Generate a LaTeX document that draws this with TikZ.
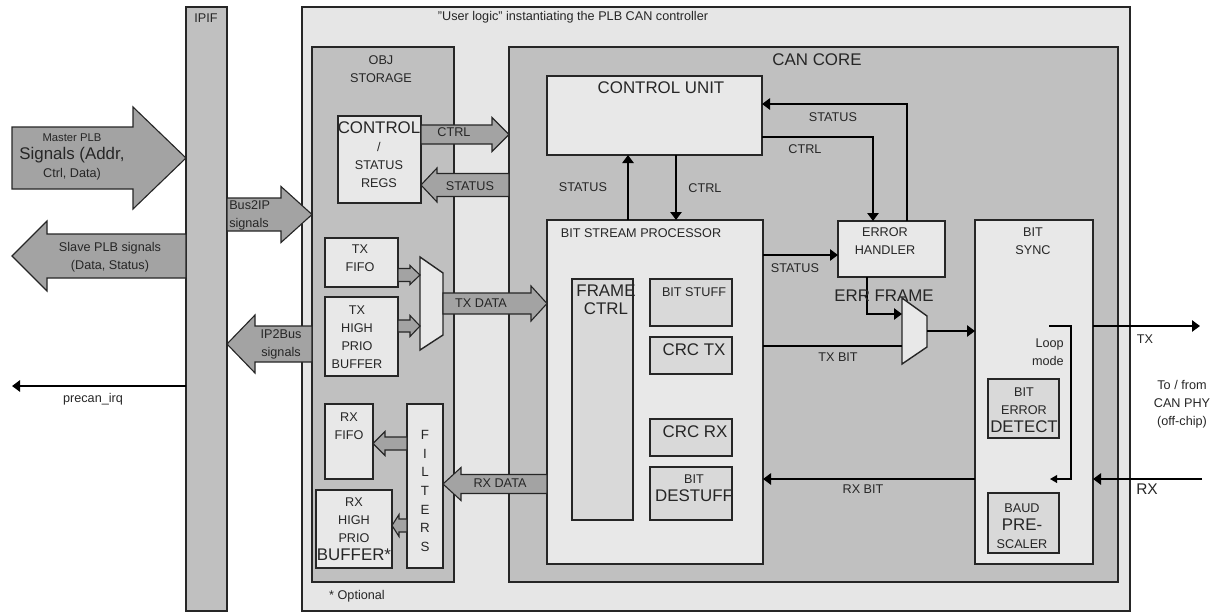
\documentclass[tikz,border=0pt]{standalone}
\usepackage{fontspec}
\setmainfont{Liberation Sans}
\usepackage{xcolor}
\definecolor{outercolor}{HTML}{E6E6E6}
\definecolor{groupcolor}{HTML}{C0C0C0}
\definecolor{blockcolor}{HTML}{E8E8E8}
\definecolor{innercolor}{HTML}{D9D9D9}
\definecolor{buscolor}{HTML}{A3A3A3}
\definecolor{edgecolor}{HTML}{262626}
\usepackage{tikz}
\usetikzlibrary{arrows.meta}
\newcommand{\bigf}{\fontsize{12}{12.5}\selectfont}
% wide bus arrow: start x, head x, tip x, y, half body, half head
\newcommand{\busarrow}[6]{%
  \draw[bus] (#1,#4-#5) -- (#2,#4-#5) -- (#2,#4-#6) -- (#3,#4)
    -- (#2,#4+#6) -- (#2,#4+#5) -- (#1,#4+#5) -- cycle;}

\begin{document}
\begin{tikzpicture}[
  x=0.025cm, y=-0.025cm,
  line join=miter,
  font=\fontsize{9}{12.8}\selectfont,
  blk/.style={draw=edgecolor, line width=1pt, anchor=north west, inner sep=0pt, outer sep=0pt},
  wh/.style 2 args={minimum width=#1*0.025cm, minimum height=#2*0.025cm},
  lbl/.style={inner sep=0pt, align=center, text=black!85},
  sig/.style={line width=2pt, draw=black, -{Triangle[length=2mm, width=2.8mm]}},
  wire/.style={line width=2pt, draw=black},
  loopline/.style={line width=0.9pt, draw=black, -{Triangle[length=1.8mm, width=2mm]}},
  bus/.style={draw=edgecolor, line width=0.8pt, fill=buscolor},
  mux/.style={draw=edgecolor, line width=1pt, fill=blockcolor},
]
  \useasboundingbox (0,0) rectangle (1215,613);

  % helper rows and columns
  \coordinate (cstat) at (628,0);
  \coordinate (cctrl) at (676,0);
  \coordinate (ceh) at (873,0);
  \coordinate (cehst) at (907,0);
  \coordinate (cerr) at (867,0);
  \coordinate (rst) at (0,104);
  \coordinate (rctrl) at (0,137);
  \coordinate (rbsp) at (0,255);
  \coordinate (rtx) at (0,326);
  \coordinate (rrx) at (0,479);
  \coordinate (rirq) at (0,386);

  % frames
  \node[blk, fill=groupcolor, wh={41}{604}] (ipif) at (186,7) {};
  \node[blk, fill=outercolor, wh={828}{604}] (user) at (302,7) {};
  \node[blk, fill=groupcolor, wh={142}{535}] (obj) at (312,47) {};
  \node[blk, fill=groupcolor, wh={609}{535}] (core) at (509,47) {};

  % obj storage
  \node[blk, fill=blockcolor, wh={83}{87}] (csr) at (338,116) {};
  \node[blk, fill=blockcolor, wh={73}{49}] (txfifo) at (325,238) {};
  \node[blk, fill=blockcolor, wh={73}{79}] (txhp) at (325,297) {};
  \node[blk, fill=blockcolor, wh={48}{75}] (rxfifo) at (325,404) {};
  \node[blk, fill=blockcolor, wh={36}{164}] (filt) at (407,404) {};
  \node[blk, fill=blockcolor, wh={76}{78}] (rxhp) at (316,490) {};

  % can core
  \node[blk, fill=blockcolor, wh={215}{79}] (cu) at (547,76) {};
  \node[blk, fill=blockcolor, wh={216}{344}] (bsp) at (547,220) {};
  \node[blk, fill=innercolor, wh={61}{241}] (frame) at (572,279) {};
  \node[blk, fill=innercolor, wh={82}{47}] (stuff) at (650,279) {};
  \node[blk, fill=innercolor, wh={82}{37}] (crctx) at (650,337) {};
  \node[blk, fill=innercolor, wh={82}{37}] (crcrx) at (650,419) {};
  \node[blk, fill=innercolor, wh={82}{53}] (destuff) at (650,467) {};
  \node[blk, fill=blockcolor, wh={107}{56}] (eh) at (838,221) {};
  \node[blk, fill=blockcolor, wh={118}{344}] (sync) at (975,220) {};
  \node[blk, fill=innercolor, wh={71}{59}] (bed) at (988,379) {};
  \node[blk, fill=innercolor, wh={71}{60}] (baud) at (988,493) {};

  % multiplexers
  \coordinate (txmuxa) at (420,275);
  \coordinate (txmuxb) at (420,326);
  \coordinate (txmuxo) at (443,303);
  \draw[mux] (420,257) -- (443,273) -- (443,335) -- (420,350) -- cycle;
  \coordinate (errmuxa) at (902,314);
  \coordinate (errmuxb) at (902,346);
  \coordinate (errmuxo) at (927,331);
  \draw[mux] (902,298) -- (927,316) -- (927,347) -- (902,364) -- cycle;

  % wide buses
  \busarrow{12}{133}{186}{158}{31}{51}
  \busarrow{186}{47}{12}{256}{22}{35}
  \busarrow{227}{281}{312}{214.5}{16.5}{28}
  \busarrow{312}{255}{227}{344}{18}{29}
  \busarrow{421}{492}{509}{134.5}{9.5}{17}
  \busarrow{509}{437}{421}{185}{11.5}{17}
  \busarrow{443}{531}{547}{303.5}{10.5}{17.5}
  \busarrow{547}{461}{443}{484}{9.5}{16.5}
  \busarrow{398}{410}{420}{275}{6.5}{9.5}
  \busarrow{398}{410}{420}{326}{6}{10.5}
  \busarrow{407}{385}{373}{443.5}{6.5}{12}
  \busarrow{407}{399}{392}{525.5}{6.5}{11}

  % control signals
  \draw[sig] (bsp.north -| cstat) -- (cu.south -| cstat);
  \draw[sig] (cu.south -| cctrl) -- (bsp.north -| cctrl);
  \draw[sig] (cu.east |- rctrl) -| (eh.north -| ceh);
  \draw[sig] (eh.north -| cehst) |- (cu.east |- rst);
  \draw[sig] (bsp.east |- rbsp) -- (eh.west |- rbsp);
  \draw[sig] (eh.south -| cerr) |- (errmuxa);
  \draw[wire] (bsp.east |- errmuxb) -- (errmuxb);
  \draw[sig] (errmuxo) -- (sync.west |- errmuxo);
  \draw[sig] (sync.west |- rrx) -- (bsp.east |- rrx);

  % phy side
  \coordinate (txend) at (1200,326);
  \coordinate (rxstart) at (1202,479);
  \draw[sig] (sync.east |- rtx) -- (txend);
  \draw[sig] (rxstart) -- (sync.east |- rrx);
  \coordinate (loopa) at (1049,326);
  \coordinate (loopb) at (1071,326);
  \coordinate (loopc) at (1071,479);
  \coordinate (loopd) at (1050,479);
  \draw[loopline] (loopa) -- (loopb) -- (loopc) -- (loopd);

  % interrupt
  \coordinate (irqend) at (12,386);
  \draw[sig] (ipif.west |- rirq) -- (irqend);

  % texts
  \node[lbl] (tipif) at (206,18) {IPIF};
  \node[lbl] (tuser) at (573,17) {"User logic" instantiating the PLB CAN controller};
  \node[lbl] (tobj) at (381,69) {OBJ\\STORAGE};
  \node[lbl, font=\bigf] (tcore) at (817,60) {CAN CORE};
  \node[lbl] (topt) at (357,596) {* Optional};
  \node[lbl] (tcsr) at (379,155) {{\bigf CONTROL}\\/\\STATUS\\REGS};
  \node[lbl] (ttxfifo) at (360,258) {TX\\FIFO};
  \node[lbl] (ttxhp) at (357,337) {TX\\HIGH\\PRIO\\BUFFER};
  \node[lbl] (trxfifo) at (349,426) {RX\\FIFO};
  \node[lbl] (trxhp) at (354,529) {RX\\HIGH\\PRIO\\{\bigf BUFFER*}};
  \node[lbl, font=\fontsize{9.5}{13.2}\selectfont] (tfilt) at (425,491) {F\\I\\L\\T\\E\\R\\S};
  \node[lbl] (tbusctrl) at (454,132) {CTRL};
  \node[lbl] (tbusstat) at (470,186) {STATUS};
  \node[lbl] (ttxdata) at (481,303) {TX DATA};
  \node[lbl] (trxdata) at (500,483) {RX DATA};

  \node[lbl, font=\bigf] (tcu) at (661,88) {CONTROL UNIT};
  \node[lbl] (tbsp) at (641,233) {BIT STREAM PROCESSOR};
  \node[lbl, font=\bigf] (tframe) at (606,300) {FRAME\\CTRL};
  \node[lbl] (tstuff) at (694,292) {BIT STUFF};
  \node[lbl, font=\bigf] (tcrctx) at (694,350) {CRC TX};
  \node[lbl, font=\bigf] (tcrcrx) at (695,432) {CRC RX};
  \node[lbl] (tdestuff) at (694,488) {BIT\\{\bigf DESTUFF}};
  \node[lbl] (teh) at (885,241.5) {ERROR\\HANDLER};
  \node[lbl] (tsync) at (1033,241.5) {BIT\\SYNC};
  \node[lbl] (tbed) at (1024,410) {BIT\\ERROR\\{\bigf DETECT}};
  \node[lbl] (tbaud) at (1022,526) {BAUD\\{\bigf PRE-}\\SCALER};
  \node[lbl, align=right, anchor=east] (tloop) at (1064,352) {Loop\\mode};
  \node[lbl, font=\bigf] (terr) at (884,296) {ERR FRAME};

  \node[lbl] (tstup) at (583,187) {STATUS};
  \node[lbl] (tctdown) at (705,188) {CTRL};
  \node[lbl] (tcteh) at (805,149) {CTRL};
  \node[lbl] (tsteh) at (833,117) {STATUS};
  \node[lbl] (tstbsp) at (795,268) {STATUS};
  \node[lbl] (ttxbit) at (838,357) {TX BIT};
  \node[lbl] (trxbit) at (863,489) {RX BIT};
  \node[lbl] (ttx) at (1145,339) {TX};
  \node[lbl, font=\fontsize{11}{12}\selectfont] (trx) at (1147,489) {RX};
  \node[lbl] (tphy) at (1182,404) {To / from\\CAN PHY\\(off-chip)};

  \node[lbl] (tmaster) at (72,157) {\fontsize{8}{9}\selectfont Master PLB\\{\bigf Signals (Addr,}\\Ctrl, Data)};
  \node[lbl] (tslave) at (110,257) {Slave PLB signals\\(Data, Status)};
  \node[lbl, align=left, anchor=west] (tbus2ip) at (229,215) {Bus2IP\\signals};
  \node[lbl] (tip2bus) at (281,344) {IP2Bus\\signals};
  \node[lbl] (tirq) at (93,399) {precan\_irq};
\end{tikzpicture}
\end{document}
